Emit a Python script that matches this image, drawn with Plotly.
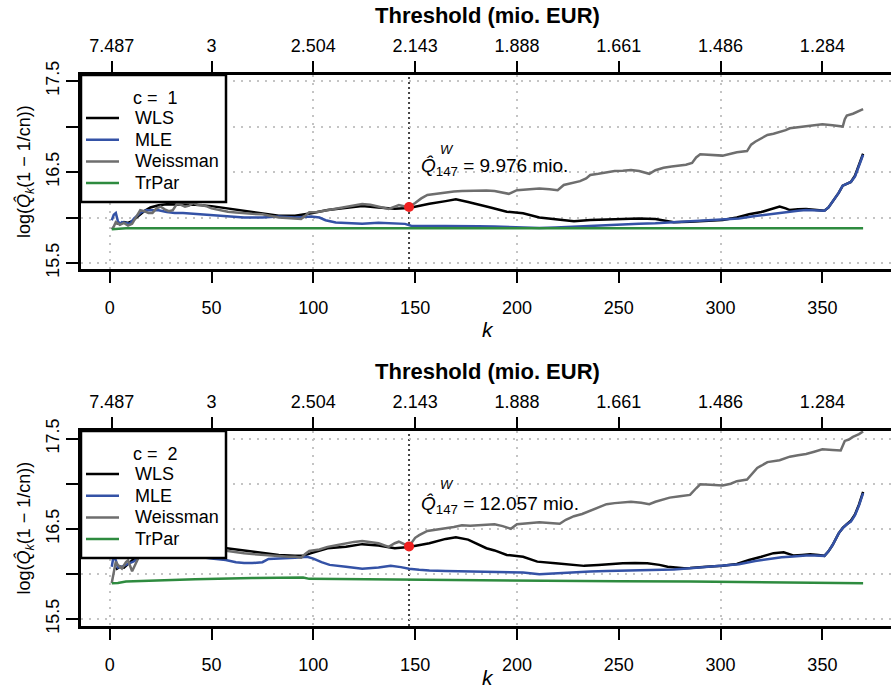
import numpy as np
import plotly.graph_objects as go

# ---------------- data: log quantile estimates vs number of exceedances k ----------------
# panel c = 1
k_wls_1 = [3, 5, 7, 9, 11, 14, 17, 20, 24, 28, 34, 42, 50, 58, 66, 75, 83, 91, 99, 107, 116, 124,
           132, 140, 147, 152, 157, 165, 170, 176, 182, 187, 195, 203, 211, 219, 228, 236, 244, 252,
           260, 268, 273, 277, 285, 293, 301, 308, 314, 320, 326, 329, 332, 334, 338, 342, 346, 351,
           353, 355, 358, 360, 362, 364, 366, 368, 370]
wls_1 = [15.94, 15.93, 15.95, 15.94, 15.96, 16.02, 16.07, 16.11, 16.135, 16.145, 16.145, 16.14,
         16.125, 16.10, 16.075, 16.046, 16.02, 16.02, 16.046, 16.082, 16.108, 16.126, 16.11, 16.095,
         16.105, 16.13, 16.15, 16.18, 16.20, 16.17, 16.14, 16.11, 16.064, 16.046, 16.00, 15.984,
         15.96, 15.973, 15.98, 15.99, 15.99, 15.984, 15.965, 15.947, 15.954, 15.963, 15.973, 16.00,
         16.035, 16.06, 16.10, 16.12, 16.10, 16.082, 16.09, 16.093, 16.085, 16.075, 16.11, 16.17,
         16.27, 16.35, 16.37, 16.39, 16.46, 16.57, 16.70]

k_mle_1 = [1, 2, 3, 4, 5, 6, 8, 10, 12, 15, 18, 21, 24, 28, 32, 36, 42, 50, 58, 66, 75, 83, 91, 99,
           103, 106, 111, 117, 124, 132, 136, 140, 145, 148, 156, 165, 173, 181, 189, 195, 203, 211,
           219, 228, 236, 244, 252, 260, 268, 277, 285, 293, 301, 309, 317, 322, 326, 330, 334, 338,
           342, 346, 351, 353, 355, 358, 360, 362, 364, 366, 368, 370]
mle_1 = [15.97, 16.03, 16.05, 15.96, 15.93, 15.95, 15.94, 15.93, 15.99, 16.05, 16.08, 16.08, 16.08,
         16.06, 16.05, 16.05, 16.04, 16.03, 16.01, 16.00, 16.00, 16.01, 16.00, 16.01, 16.00, 15.97,
         15.945, 15.935, 15.93, 15.943, 15.94, 15.935, 15.93, 15.91, 15.91, 15.905, 15.91, 15.905,
         15.90, 15.895, 15.888, 15.885, 15.89, 15.90, 15.91, 15.918, 15.925, 15.93, 15.936, 15.947,
         15.954, 15.963, 15.973, 15.99, 16.016, 16.03, 16.046, 16.055, 16.064, 16.075, 16.082,
         16.08, 16.075, 16.11, 16.17, 16.27, 16.35, 16.37, 16.39, 16.45, 16.56, 16.69]

k_weis_1 = [1, 2, 3, 5, 7, 9, 11, 13, 15, 17, 19, 21, 23, 25, 27, 29, 31, 33, 35, 37, 39, 41, 43,
            45, 48, 50, 54, 58, 62, 66, 70, 75, 79, 83, 87, 91, 94, 96, 98, 102, 107, 111, 116, 120,
            124, 128, 132, 137, 140, 142, 145, 147, 150, 153, 156, 160, 165, 169, 173, 177, 181,
            185, 189, 192, 196, 200, 205, 211, 216, 220, 223, 227, 231, 234, 236, 240, 244, 248,
            252, 256, 260, 265, 268, 272, 276, 279, 283, 286, 288, 290, 295, 301, 305, 308, 313,
            315, 317, 320, 323, 326, 329, 332, 334, 338, 342, 346, 350, 355, 360, 361, 362, 365,
            368, 370]
weis_1 = [15.87, 15.90, 15.95, 15.92, 15.94, 15.91, 15.93, 16.00, 16.08, 16.07, 16.05, 16.05, 16.10,
          16.12, 16.09, 16.07, 16.08, 16.15, 16.14, 16.12, 16.13, 16.16, 16.14, 16.137, 16.12,
          16.10, 16.08, 16.064, 16.055, 16.046, 16.04, 16.035, 16.02, 16.00, 15.995, 15.99,
          15.984, 16.02, 16.057, 16.06, 16.08, 16.095, 16.108, 16.13, 16.148, 16.14, 16.12,
          16.093, 16.12, 16.137, 16.12, 16.1156, 16.16, 16.21, 16.247, 16.26, 16.277, 16.285,
          16.29, 16.295, 16.30, 16.298, 16.29, 16.28, 16.26, 16.30, 16.31, 16.32, 16.31, 16.30,
          16.357, 16.38, 16.40, 16.43, 16.467, 16.48, 16.496, 16.51, 16.515, 16.522, 16.51, 16.48,
          16.52, 16.547, 16.56, 16.57, 16.58, 16.60, 16.66, 16.694, 16.686, 16.68, 16.70, 16.716,
          16.73, 16.80, 16.833, 16.87, 16.907, 16.92, 16.936, 16.96, 16.98, 16.99, 16.998, 17.01,
          17.024, 17.015, 17.00, 17.08, 17.12, 17.14, 17.17, 17.19]

k_trpar_1 = [1, 4, 8, 100, 200, 300, 370]
trpar_1 = [15.87, 15.875, 15.881, 15.881, 15.881, 15.881, 15.881]

# panel c = 2
k_wls_2 = [3, 5, 7, 9, 11, 13, 16, 25, 35, 45, 52, 58, 66, 75, 83, 91, 95, 99, 107, 116, 124, 132,
           140, 147, 152, 157, 165, 170, 176, 181, 185, 189, 195, 203, 210, 219, 226, 233, 240, 244,
           252, 258, 264, 270, 274, 282, 285, 293, 301, 308, 314, 320, 326, 331, 336, 340, 344, 348,
           351, 353, 355, 358, 360, 362, 364, 366, 368, 370]
wls_2 = [16.05, 16.08, 16.07, 16.11, 16.15, 16.20, 16.25, 16.32, 16.33, 16.32, 16.30, 16.285,
         16.255, 16.23, 16.21, 16.20, 16.20, 16.23, 16.285, 16.30, 16.33, 16.315, 16.285, 16.298,
         16.315, 16.34, 16.388, 16.407, 16.38, 16.33, 16.285, 16.26, 16.21, 16.19, 16.136, 16.118,
         16.10, 16.089, 16.10, 16.107, 16.118, 16.12, 16.118, 16.10, 16.08, 16.063, 16.065, 16.08,
         16.09, 16.11, 16.155, 16.19, 16.23, 16.24, 16.203, 16.21, 16.218, 16.21, 16.20, 16.25,
         16.32, 16.45, 16.51, 16.55, 16.59, 16.66, 16.77, 16.91]

k_mle_2 = [1, 2, 3, 4, 6, 8, 10, 12, 15, 20, 30, 40, 50, 57, 62, 66, 70, 75, 78, 84, 91, 97, 100,
           104, 108, 116, 124, 132, 138, 143, 147, 152, 157, 165, 173, 181, 189, 196, 203, 211, 219,
           228, 236, 244, 252, 260, 269, 277, 285, 293, 301, 309, 317, 322, 326, 330, 334, 338, 342,
           346, 351, 353, 355, 358, 360, 362, 364, 366, 368, 370]
mle_2 = [16.08, 16.21, 16.15, 16.07, 16.08, 16.10, 16.12, 16.14, 16.19, 16.22, 16.22, 16.20, 16.17,
         16.155, 16.13, 16.12, 16.12, 16.13, 16.166, 16.17, 16.18, 16.19, 16.17, 16.13, 16.10,
         16.08, 16.056, 16.07, 16.089, 16.075, 16.056, 16.045, 16.037, 16.033, 16.03, 16.028,
         16.026, 16.02, 16.015, 15.997, 16.008, 16.018, 16.026, 16.032, 16.037, 16.04, 16.044,
         16.05, 16.063, 16.08, 16.09, 16.107, 16.144, 16.16, 16.174, 16.185, 16.19, 16.198,
         16.203, 16.205, 16.20, 16.25, 16.32, 16.45, 16.507, 16.55, 16.58, 16.65, 16.76, 16.895]

k_weis_2 = [1, 2, 3, 4, 6, 8, 9, 11, 13, 15, 20, 30, 40, 50, 58, 62, 66, 70, 75, 83, 88, 91, 94, 96,
            98, 103, 107, 112, 116, 120, 124, 128, 132, 137, 140, 142, 145, 147, 150, 152, 156,
            160, 165, 169, 173, 177, 181, 185, 189, 193, 197, 200, 205, 211, 216, 221, 224, 228,
            232, 236, 240, 244, 248, 252, 256, 261, 265, 268, 272, 275, 280, 285, 288, 290, 295,
            301, 305, 308, 313, 316, 318, 320, 323, 329, 334, 338, 342, 346, 350, 355, 359, 361,
            363, 365, 368, 370]
weis_2 = [15.90, 16.00, 16.136, 16.10, 16.06, 16.13, 16.15, 16.03, 16.12, 16.22, 16.28, 16.32,
          16.30, 16.28, 16.255, 16.24, 16.23, 16.22, 16.21, 16.20, 16.19, 16.19, 16.18, 16.22,
          16.255, 16.27, 16.30, 16.32, 16.34, 16.355, 16.366, 16.355, 16.34, 16.30, 16.34, 16.357,
          16.33, 16.3051, 16.40, 16.43, 16.477, 16.49, 16.50, 16.52, 16.54, 16.535, 16.54, 16.545,
          16.55, 16.53, 16.50, 16.55, 16.56, 16.573, 16.565, 16.556, 16.60, 16.64, 16.665, 16.70,
          16.74, 16.773, 16.785, 16.79, 16.80, 16.79, 16.773, 16.80, 16.83, 16.846, 16.86, 16.876,
          16.95, 16.994, 16.99, 16.98, 17.00, 17.028, 17.046, 17.12, 17.175, 17.20, 17.24, 17.26,
          17.30, 17.315, 17.33, 17.355, 17.382, 17.375, 17.37, 17.475, 17.49, 17.52, 17.55, 17.58]

k_trpar_2 = [1, 4, 8, 20, 42, 70, 91, 95, 98, 120, 140, 160, 189, 220, 250, 285, 320, 350, 370]
trpar_2 = [15.895, 15.90, 15.915, 15.925, 15.94, 15.955, 15.963, 15.96, 15.945, 15.94, 15.937,
           15.932, 15.926, 15.922, 15.918, 15.915, 15.908, 15.90, 15.897]

# selected k and Weissman quantile estimates (mio. EUR)
k_sel = 147
q_weis_sel = [9.976, 12.057]
c_values = [1, 2]

# axis ticks
k_ticks = [0, 50, 100, 150, 200, 250, 300, 350]
k_top_ticks = [1, 50, 100, 150, 200, 250, 300, 350]
threshold_labels = ["7.487", "3", "2.504", "2.143", "1.888", "1.661", "1.486", "1.284"]
k_grid = [0, 100, 200, 300]
y_ticks = [15.5, 16.0, 16.5, 17.0, 17.5]
y_ticktext = ["15.5", "", "16.5", "", "17.5"]

# ---------------- styling ----------------
FONT = "Liberation Sans, Arial, Helvetica, sans-serif"
COL_WLS = "#000000"
COL_MLE = "#3452a6"
COL_WEIS = "#6e6e6e"
COL_TRPAR = "#2e8b3f"
GRID = "#c4c4c4"
W, H = 891, 692
ML = 81


def py(p):
    """pixel row -> paper y"""
    return 1 - p / H


def px(p):
    """pixel column -> paper x"""
    return (p - ML) / (W - ML)


x_range = [-14.1, 383.7]
panels = [
    dict(top=75, bottom=269, yr=[15.434, 17.566], ttl=15, klab=329),
    dict(top=431, bottom=626, yr=[15.422, 17.585], ttl=371, klab=677),
]

series = [
    dict(k=[k_wls_1, k_mle_1, k_weis_1, k_trpar_1], v=[wls_1, mle_1, weis_1, trpar_1]),
    dict(k=[k_wls_2, k_mle_2, k_weis_2, k_trpar_2], v=[wls_2, mle_2, weis_2, trpar_2]),
]
names = ["WLS", "MLE", "Weissman", "TrPar"]
colors = [COL_WLS, COL_MLE, COL_WEIS, COL_TRPAR]

fig = go.Figure()
layout = dict(
    width=W, height=H,
    margin=dict(l=ML, r=0, t=0, b=0),
    paper_bgcolor="white", plot_bgcolor="white",
    font=dict(family=FONT, size=18, color="black"),
    showlegend=False,
)
annotations = []
shapes = []

for i, (pan, ser) in enumerate(zip(panels, series)):
    n = i + 1
    xb = "x" if n == 1 else f"x{n}"          # bottom k axis
    yb = "y" if n == 1 else f"y{n}"
    xt = f"x{n + 2}"                            # top threshold axis
    xg = f"x{n + 4}"                            # vertical grid axis
    dom = [py(pan["bottom"]), py(pan["top"])]

    # empty traces so that the overlaid axes get drawn
    for ax in (xg, xt):
        fig.add_trace(go.Scatter(x=[None], y=[None], xaxis=ax, yaxis=yb,
                                 showlegend=False, hoverinfo="skip"))

    for kk, vv, nm, col in zip(ser["k"], ser["v"], names, colors):
        fig.add_trace(go.Scatter(
            x=kk, y=vv, mode="lines", name=nm,
            line=dict(color=col, width=2.5), xaxis=xb, yaxis=yb,
        ))
    yq = float(np.log(q_weis_sel[i] * 1e6))
    fig.add_trace(go.Scatter(
        x=[k_sel], y=[yq], mode="markers", name="selected",
        marker=dict(color="#f02020", size=10), xaxis=xb, yaxis=yb,
    ))

    axis_common = dict(range=x_range, zeroline=False, showgrid=False,
                       tickfont=dict(size=18, family=FONT), automargin=False)
    layout[f"xaxis{'' if n == 1 else n}"] = dict(
        axis_common, domain=[0, 1], anchor=yb,
        tickvals=k_ticks, ticks="outside", ticklen=11, tickwidth=2, tickcolor="black",
        showline=True, linewidth=2.5, linecolor="black", ticklabelstandoff=10,
    )
    layout[f"xaxis{n + 2}"] = dict(
        axis_common, overlaying=xb, anchor=yb, side="top",
        tickvals=k_top_ticks, ticktext=threshold_labels,
        ticks="outside", ticklen=11, tickwidth=2, tickcolor="black",
        showline=True, linewidth=2.5, linecolor="black", ticklabelstandoff=2,
    )
    layout[f"xaxis{n + 4}"] = dict(
        range=x_range, overlaying=xb, anchor=yb, tickvals=k_grid,
        showticklabels=False, ticks="", showline=False, zeroline=False,
        showgrid=True, gridcolor=GRID, gridwidth=2, griddash="2px,6px",
    )
    layout[f"yaxis{'' if n == 1 else n}"] = dict(
        domain=dom, anchor=xb, range=pan["yr"], zeroline=False,
        tickvals=y_ticks, ticktext=y_ticktext, tickangle=-90,
        ticks="outside", ticklen=12, tickwidth=2, tickcolor="black",
        showline=True, linewidth=2.5, linecolor="black",
        showgrid=True, gridcolor=GRID, gridwidth=2, griddash="2px,6px",
        tickfont=dict(size=18, family=FONT), automargin=False, ticklabelstandoff=0,
    )

    # legend box (drawn over the curves)
    top = pan["top"]
    shapes.append(dict(type="rect", xref="paper", yref="paper", layer="above",
                       x0=px(81), x1=px(226), y0=py(top + 127), y1=py(top),
                       fillcolor="white", line=dict(color="black", width=2.5)))
    annotations.append(dict(text=f"c = \u00a0{c_values[i]}", xref="paper", yref="paper",
                            x=px(155), y=py(top + 23), xanchor="center", yanchor="middle",
                            showarrow=False, font=dict(size=18, family=FONT)))
    for j, (nm, col) in enumerate(zip(names, colors)):
        yy = top + 43 + j * 21.7
        shapes.append(dict(type="line", xref="paper", yref="paper", layer="above",
                           x0=px(86), x1=px(119), y0=py(yy), y1=py(yy),
                           line=dict(color=col, width=2.5)))
        annotations.append(dict(text=nm, xref="paper", yref="paper", x=px(133), y=py(yy),
                                xanchor="left", yanchor="middle", showarrow=False,
                                font=dict(size=18, family=FONT)))

    # selected k marker line
    shapes.append(dict(type="line", xref=xb, yref=f"{yb} domain", x0=k_sel, x1=k_sel,
                       y0=0, y1=1, layer="below",
                       line=dict(color="#444444", width=2, dash="2px,3px")))

    # titles
    annotations.append(dict(text="<b>Threshold (mio. EUR)</b>", xref="paper", yref="paper",
                            x=px(487), y=py(pan["ttl"]), xanchor="center", yanchor="middle",
                            showarrow=False, font=dict(size=22, family=FONT)))
    annotations.append(dict(text="<i>k</i>", xref="paper", yref="paper",
                            x=px(488), y=py(pan["klab"]), xanchor="center",
                            yanchor="middle", showarrow=False, font=dict(size=21, family=FONT)))
    annotations.append(dict(text="log(<i>Q\u0302</i><sub><i>k</i></sub>(1 \u2212 1/cn))",
                            xref="paper", yref="paper", x=px(25),
                            y=py((pan["top"] + pan["bottom"]) / 2), textangle=-90,
                            xanchor="center", yanchor="middle", showarrow=False,
                            font=dict(size=18, family=FONT)))
    # label of the selected Weissman estimate
    annotations.append(dict(text=f"<i>Q\u0302</i><sub>{k_sel}</sub> = {q_weis_sel[i]:.3f} mio.",
                            xref=xb, yref=yb, x=k_sel, y=yq + (0.44 if i == 0 else 0.46),
                            xshift=10, xanchor="left", yanchor="middle", showarrow=False,
                            font=dict(size=19, family=FONT)))
    annotations.append(dict(text="<i>W</i>", xref=xb, yref=yb, x=k_sel,
                            y=yq + (0.63 if i == 0 else 0.69),
                            xshift=29, xanchor="left", yanchor="middle", showarrow=False,
                            font=dict(size=13, family=FONT)))

layout["annotations"] = annotations
layout["shapes"] = shapes
fig.update_layout(**layout)
fig.write_html("out.html")
